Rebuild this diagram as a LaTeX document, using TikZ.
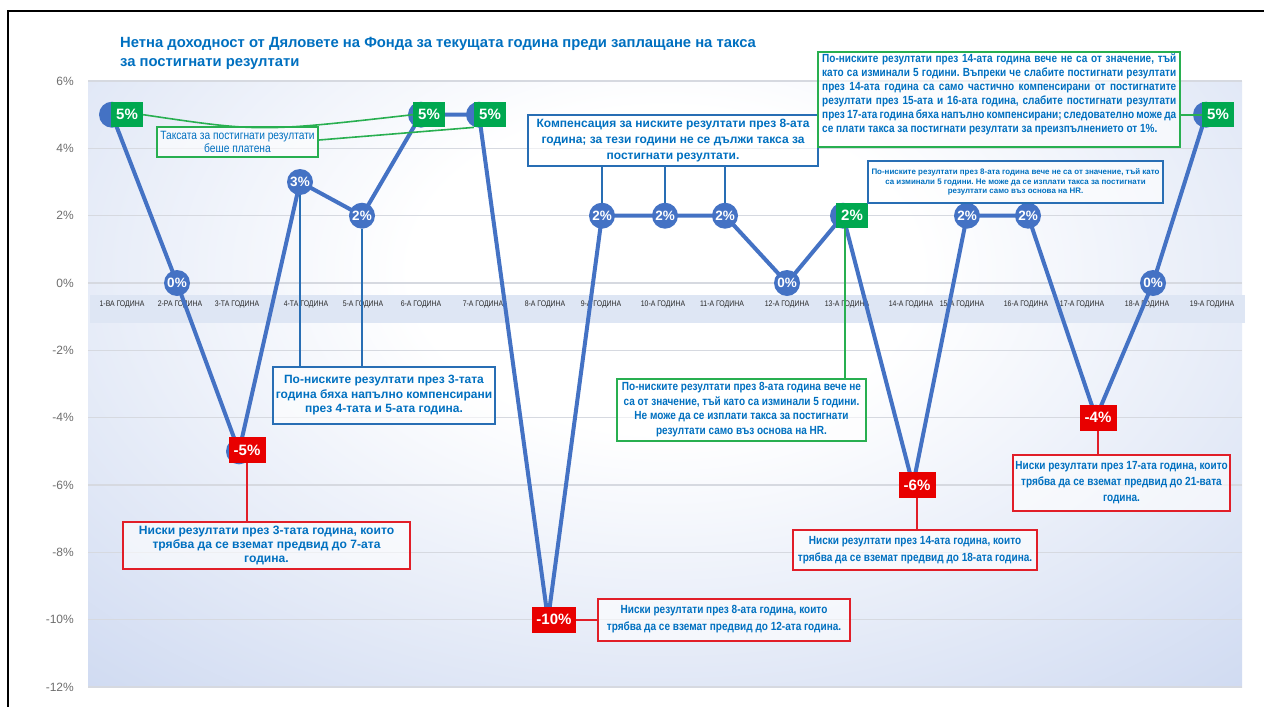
\documentclass[tikz,border=0pt]{standalone}
\usepackage{fontspec}
\setmainfont{Liberation Sans}
\newfontfamily\narrowf[FakeStretch=0.85]{Liberation Sans}
\frenchspacing
\definecolor{lineblue}{RGB}{68,114,196}
\definecolor{txtblue}{RGB}{0,112,192}
\definecolor{gfill}{RGB}{0,168,80}
\definecolor{rfill}{RGB}{232,0,0}
\definecolor{gedge}{RGB}{40,175,80}
\definecolor{redge}{RGB}{225,30,40}
\definecolor{bedge}{RGB}{40,110,180}
\definecolor{gridc}{RGB}{214,217,224}
\definecolor{pbg}{RGB}{176,194,232}
\definecolor{bandc}{RGB}{222,230,244}
\definecolor{axisgray}{RGB}{110,110,110}
\definecolor{yrtext}{RGB}{40,40,40}
\pgfdeclareradialshading{plotbg}{\pgfpoint{0bp}{0bp}}{color(0bp)=(white); color(9bp)=(white); color(46bp)=(pbg); color(75bp)=(pbg)}
\tikzset{
  gridln/.style={draw=gridc, line width=1.2pt},
  dataline/.style={draw=lineblue, line width=4pt, line join=round},
  dot/.style={circle, fill=lineblue, minimum size=26pt, inner sep=0pt, text=white, font=\bfseries\fontsize{13.5}{13.5}\selectfont},
  glab/.style={fill=gfill, text=white, font=\bfseries\fontsize{15}{15}\selectfont, minimum width=32pt, minimum height=25pt, inner sep=0pt},
  rlab/.style={fill=rfill, text=white, font=\bfseries\fontsize{15}{15}\selectfont, minimum width=37pt, minimum height=26pt, inner sep=0pt},
  yrlab/.style={font=\narrowf\fontsize{8.1}{8.1}\selectfont, text=yrtext, inner sep=0pt},
  axlab/.style={font=\fontsize{12}{12}\selectfont, text=axisgray, anchor=east, inner sep=0pt},
  annot/.style={fill=white, fill opacity=0.6, text opacity=1, text=txtblue, align=center, line width=2pt, inner sep=0pt},
  gbx/.style={annot, draw=gedge},
  rbx/.style={annot, draw=redge},
  bbx/.style={annot, draw=bedge},
  nbold/.style={font=\narrowf\bfseries\fontsize{11.8}{#1}\selectfont},
  gconn/.style={draw=gedge, line width=1.6pt},
  rconn/.style={draw=redge, line width=1.6pt},
  bconn/.style={draw=bedge, line width=1.5pt},
}
\begin{document}
\begin{tikzpicture}[x=1pt,y=-1pt]
\useasboundingbox (0,0) rectangle (1264,707);
\fill[white] (0,0) rectangle (1264,707);
% plot background
\begin{scope}
\clip (88,81) rectangle (1242,687);
\shade[shading=plotbg] (-40,-180) rectangle (1370,720);
\end{scope}
% grid lines and axis labels
\foreach \v [count=\i] in {6,4,...,-12} {
  \draw[gridln] (88,{283-(\v)*33.667}) -- (1242,{283-(\v)*33.667});
  \node[axlab] (ax\i) at (74,{283-(\v)*33.667}) {\v\%};
}
% category band
\fill[bandc] (90,295) rectangle (1245,323);
\foreach \x/\t [count=\i] in {122/1-ВА ГОДИНА, 180/2-РА ГОДИНА, 237/3-ТА ГОДИНА, 306/4-ТА ГОДИНА, 363/5-А ГОДИНА, 421/6-А ГОДИНА, 483/7-А ГОДИНА, 545/8-А ГОДИНА, 601/9-А ГОДИНА, 663/10-А ГОДИНА, 722/11-А ГОДИНА, 787/12-А ГОДИНА, 847/13-А ГОДИНА, 911/14-А ГОДИНА, 962/15-А ГОДИНА, 1026/16-А ГОДИНА, 1082/17-А ГОДИНА, 1147/18-А ГОДИНА, 1212/19-А ГОДИНА}
  \node[yrlab] (yr\i) at (\x,304) {\t};
% title
\node[anchor=west, align=left, inner sep=0pt, text=txtblue, font=\bfseries\fontsize{14.8}{19}\selectfont] (title) at (120,53) {Нетна доходност от Дяловете на Фонда за текущата година преди заплащане на такса\\за постигнати резултати};
% data points
\coordinate (c1) at (112,114.7);
\coordinate (c2) at (177,283);
\coordinate (c3) at (239,451.3);
\coordinate (c4) at (300,182);
\coordinate (c5) at (362,215.7);
\coordinate (c6) at (421,114.7);
\coordinate (c7) at (479,114.7);
\coordinate (c8) at (548,619.7);
\coordinate (c9) at (602,215.7);
\coordinate (c10) at (665,215.7);
\coordinate (c11) at (725,215.7);
\coordinate (c12) at (787,283);
\coordinate (c13) at (843,215.7);
\coordinate (c14) at (913,485);
\coordinate (c15) at (967,215.7);
\coordinate (c16) at (1028,215.7);
\coordinate (c17) at (1096,417.7);
\coordinate (c18) at (1153,283);
\coordinate (c19) at (1206,114.7);
\draw[dataline] (c1) -- (c2) -- (c3) -- (c4) -- (c5) -- (c6) -- (c7) -- (c8) -- (c9) -- (c10) -- (c11) -- (c12) -- (c13) -- (c14) -- (c15) -- (c16) -- (c17) -- (c18) -- (c19);
\node[dot] (p1) at (c1) {};
\node[dot] (p2) at (c2) {0\%};
\node[dot] (p3) at (c3) {};
\node[dot] (p4) at (c4) {3\%};
\node[dot] (p5) at (c5) {2\%};
\node[dot] (p6) at (c6) {};
\node[dot] (p7) at (c7) {};
\node[dot] (p8) at (c8) {};
\node[dot] (p9) at (c9) {2\%};
\node[dot] (p10) at (c10) {2\%};
\node[dot] (p11) at (c11) {2\%};
\node[dot] (p12) at (c12) {0\%};
\node[dot] (p13) at (c13) {};
\node[dot] (p14) at (c14) {};
\node[dot] (p15) at (c15) {2\%};
\node[dot] (p16) at (c16) {2\%};
\node[dot] (p17) at (c17) {};
\node[dot] (p18) at (c18) {0\%};
\node[dot] (p19) at (c19) {};
% value labels
\node[glab] (g1) at (127,114.7) {5\%};
\node[glab] (g6) at (429,114.7) {5\%};
\node[glab] (g7) at (490,114.7) {5\%};
\node[glab] (g13) at (852,215.7) {2\%};
\node[glab] (g19) at (1218,114.7) {5\%};
\node[rlab] (r3) at (247,450) {-5\%};
\node[rlab, minimum width=44pt] (r8) at (554,619.7) {-10\%};
\node[rlab] (r14) at (917,485) {-6\%};
\node[rlab] (r17) at (1098,417.7) {-4\%};
% annotation boxes
\node[gbx, minimum width=161pt, minimum height=30pt, font=\narrowf\fontsize{12}{13.5}\selectfont] (tax) at (237.5,142) {Таксата за постигнати резултати\\беше платена};
\node[bbx, minimum width=290pt, minimum height=51pt, font=\bfseries\fontsize{12}{16}\selectfont] (comp) at (673,140.5) {Компенсация за ниските резултати през 8-ата\\година; за тези години не се дължи такса за\\постигнати резултати.};
\node[gbx, minimum width=362pt, minimum height=95pt] (dbox) at (999,99.5) {};
\node[anchor=north west, align=left, inner sep=0pt, text=txtblue, nbold=14] (dtext) at (822,54) {\makebox[354pt][s]{По-ниските резултати през 14-ата година вече не са от значение, тъй}\\
\makebox[354pt][s]{като са изминали 5 години. Въпреки че слабите постигнати резултати}\\
\makebox[354pt][s]{през 14-ата година са само частично компенсирани от постигнатите}\\
\makebox[354pt][s]{резултати през 15-ата и 16-ата година, слабите постигнати резултати}\\
\makebox[354pt][s]{през 17-ата година бяха напълно компенсирани; следователно може да}\\
се плати такса за постигнати резултати за преизпълнението от 1\%.};
\node[bbx, minimum width=295pt, minimum height=42pt, font=\bfseries\fontsize{7.95}{9.8}\selectfont] (ebox) at (1015.5,182) {По-ниските резултати през 8-ата година вече не са от значение, тъй като\\са изминали 5 години. Не може да се изплати такса за постигнати\\резултати само въз основа на HR.};
\node[bbx, minimum width=222pt, minimum height=57pt, font=\bfseries\fontsize{12}{14.5}\selectfont] (fbox) at (384,395.5) {По-ниските резултати през 3-тата\\година бяха напълно компенсирани\\през 4-тата и 5-ата година.};
\node[rbx, minimum width=287pt, minimum height=47pt, font=\bfseries\fontsize{12.1}{14}\selectfont] (gbox) at (266.5,545.5) {Ниски резултати през 3-тата година, които\\трябва да се вземат предвид до 7-ата\\година.};
\node[gbx, minimum width=249pt, minimum height=62pt, nbold=14.5] (hbox) at (741.5,409.5) {По-ниските резултати през 8-ата година вече не\\са от значение, тъй като са изминали 5 години.\\Не може да се изплати такса за постигнати\\резултати само въз основа на HR.};
\node[rbx, minimum width=244pt, minimum height=40pt, nbold=17] (ibox) at (915,550) {Ниски резултати през 14-ата година, които\\трябва да се вземат предвид до 18-ата година.};
\node[rbx, minimum width=217pt, minimum height=56pt, nbold=16] (jbox) at (1121.5,483) {Ниски резултати през 17-ата година, които\\трябва да се вземат предвид до 21-вата\\година.};
\node[rbx, minimum width=252pt, minimum height=42pt, nbold=17] (kbox) at (724,619.5) {Ниски резултати през 8-ата година, които\\трябва да се вземат предвид до 12-ата година.};
% connectors
\draw[gconn] (g1.east) .. controls (260,132) .. (g6.west);
\draw[gconn] ([yshift=2pt]tax.east) -- (g7.south west);
\draw[gconn] (g19.west) -- (g19.west -| dbox.east);
\draw[gconn] ([xshift=-7pt]g13.south) -- ([xshift=-7pt]g13.south |- hbox.north);
\draw[bconn] (p9.north) -- (p9.north |- comp.south);
\draw[bconn] (p10.north) -- (p10.north |- comp.south);
\draw[bconn] (p11.north) -- (p11.north |- comp.south);
\draw[bconn] (p4.south) -- (p4.south |- fbox.north);
\draw[bconn] (p5.south) -- (p5.south |- fbox.north);
\draw[rconn] (r3.south) -- (r3.south |- gbox.north);
\draw[rconn] (r14.south) -- (r14.south |- ibox.north);
\draw[rconn] (r17.south) -- (r17.south |- jbox.north);
\draw[rconn] (r8.east) -- (r8.east -| kbox.west);
% frame
\draw[line width=2.5pt] (1264,11) -- (8,11) -- (8,707);
\end{tikzpicture}
\end{document}
